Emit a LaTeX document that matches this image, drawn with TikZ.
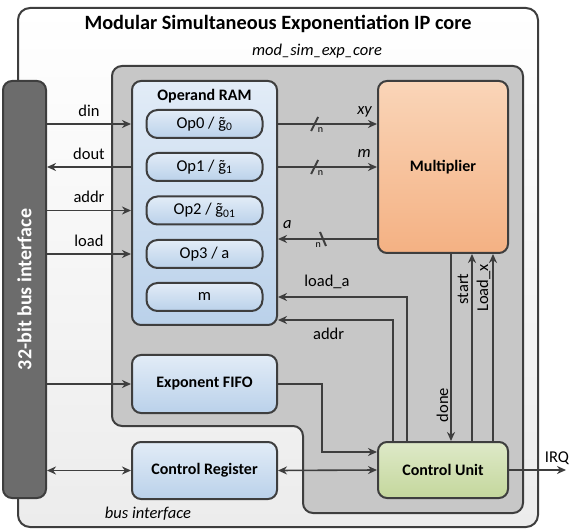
\documentclass[tikz,border=0pt]{standalone}
\usepackage{fontspec}
\setmainfont{Carlito}
\usepackage{xcolor}
\usepackage{tikz}
\usetikzlibrary{arrows.meta}

\definecolor{edgegray}{RGB}{62,62,62}
\definecolor{outerbot}{RGB}{236,236,236}
\definecolor{coregray}{RGB}{199,199,199}
\definecolor{busgray}{RGB}{108,108,108}
\definecolor{blueA}{RGB}{226,236,247}
\definecolor{blueB}{RGB}{186,209,234}
\definecolor{orangeA}{RGB}{250,213,184}
\definecolor{orangeB}{RGB}{244,177,131}
\definecolor{greenA}{RGB}{222,233,200}
\definecolor{greenB}{RGB}{196,215,156}

\newcommand{\gtil}{\accent"02DC g}

\begin{document}
\begin{tikzpicture}[x=1pt,y=-1pt,
  box/.style={draw=edgegray,line width=2pt,rounded corners=9pt,inner sep=0pt},
  bluebox/.style={box,top color=blueA,bottom color=blueB,minimum width=145pt,
    font=\fontsize{16}{19}\selectfont\bfseries},
  opbox/.style={box,rounded corners=11pt,top color=blueA,bottom color=blueB,
    minimum width=116pt,minimum height=28pt,font=\fontsize{16.5}{20}\selectfont},
  sig/.style={draw=edgegray,line width=1.6pt},
  tip/.style={-{Stealth[length=9pt,width=8pt]}},
  tips/.style={{Stealth[length=9pt,width=8pt]}-{Stealth[length=9pt,width=8pt]}},
  lbl/.style={font=\fontsize{16.5}{20}\selectfont,inner sep=1pt},
  ilbl/.style={font=\fontsize{16.5}{20}\selectfont\itshape,inner sep=1pt},
  rlbl/.style={lbl,rotate=90,anchor=base},
  nlbl/.style={font=\fontsize{10}{12}\selectfont,inner sep=0pt}]
\useasboundingbox (0,0) rectangle (574,532);

% frames
\draw [draw=edgegray,line width=2pt,rounded corners=12pt,top color=white,bottom color=outerbot]
  (18,8) rectangle (538,527);
\node [anchor=base,font=\fontsize{20.3}{24}\selectfont\bfseries] (title) at (278,30)
  {Modular Simultaneous Exponentiation IP core};
\draw [draw=edgegray,line width=2pt,rounded corners=10pt,fill=coregray]
  (112,66) -- (523,66) -- (523,513) -- (303,513) -- (303,426) -- (112,426) -- cycle;
\node [anchor=base,ilbl] (corename) at (317,56) {mod\_sim\_exp\_core};
\node [anchor=base,ilbl] (busname) at (148,518) {bus interface};

% bus bar
\node [box,fill=busgray,minimum width=43pt,minimum height=417pt] (bus) at (24.5,289.5) {};
\node [rotate=90,text=white,font=\fontsize{20}{24}\selectfont\bfseries] (bustext) at (bus.center)
  {32-bit bus interface};

% blocks
\node [bluebox,minimum height=244pt] (ram) at (204.5,203) {};
\node [anchor=base,font=\fontsize{16}{19}\selectfont\bfseries] (ramtitle) at (204.5,101) {Operand RAM};
\node [opbox] (op0) at (204.5,124) {Op0 / \gtil\textsubscript{0}};
\node [opbox] (op1) at (204.5,167) {Op1 / \gtil\textsubscript{1}};
\node [opbox] (op2) at (204.5,210.5) {Op2 / \gtil\textsubscript{01}};
\node [opbox] (op3) at (204.5,254) {Op3 / a};
\node [opbox] (op4) at (204.5,297) {m};
\node [bluebox,minimum height=58pt] (fifo) at (204.5,384) {Exponent FIFO};
\node [bluebox,minimum height=57pt] (creg) at (204.5,470.5) {Control Register};
\node [box,top color=orangeA,bottom color=orangeB,minimum width=130pt,minimum height=172pt,
  font=\fontsize{16}{19}\selectfont\bfseries] (mult) at (443,167) {Multiplier};
\node [box,top color=greenA,bottom color=greenB,minimum width=130pt,minimum height=56pt,
  font=\fontsize{16}{19}\selectfont\bfseries] (cu) at (443,470) {Control Unit};

% bus side
\draw [sig,tip] (bus.east |- op0) -- node [lbl,above=6pt] {din} (ram.west |- op0);
\draw [sig,tip] (ram.west |- op1) -- node [lbl,above=6pt] {dout} (bus.east |- op1);
\draw [sig,tip] (bus.east |- op2) -- node [lbl,above=6pt] {addr} (ram.west |- op2);
\draw [sig,tip] (bus.east |- op3) -- node [lbl,above=6pt] {load} (ram.west |- op3);
\draw [sig,tip] (bus.east |- fifo) -- (fifo.west);
\draw [sig,tips] (bus.east |- creg) -- (creg.west);

% data paths
\draw [sig,tip] (ram.east |- op0) -- coordinate [pos=0.37] (bm0) (mult.west |- op0);
\draw [sig,tip] (ram.east |- op1) -- coordinate [pos=0.37] (bm1) (mult.west |- op1);
\coordinate (aport) at (378,239);
\draw [sig,tip] (aport) -- coordinate [pos=0.55] (bm2) (ram.east |- aport);
\node [ilbl,anchor=base east] (xylbl) at ([shift={(-4pt,9pt)}]mult.west |- op0) {xy};
\node [ilbl,anchor=base east] (mlbl) at ([shift={(-5pt,9pt)}]mult.west |- op1) {m};
\node [ilbl,anchor=base west] (albl) at ([shift={(4pt,10pt)}]ram.east |- aport) {a};
\draw [sig,line width=2pt] ([shift={(-3.5pt,-7pt)}]bm0) -- ([shift={(3.5pt,7pt)}]bm0);
\draw [sig,line width=2pt] ([shift={(-3.5pt,-7pt)}]bm1) -- ([shift={(3.5pt,7pt)}]bm1);
\draw [sig,line width=2pt] ([shift={(-3pt,7pt)}]bm2) -- ([shift={(3pt,-7pt)}]bm2);
\node [nlbl,anchor=north west] at ([shift={(3pt,-3pt)}]bm0) {n};
\node [nlbl,anchor=north west] at ([shift={(3pt,-3pt)}]bm1) {n};
\node [nlbl,anchor=north east] at ([shift={(-2pt,-3pt)}]bm2) {n};

% control paths
\coordinate (addrin) at (ram.east |- 0,320);
\draw [sig,tip] ([xshift=-36pt]cu.north) |- node [lbl,pos=0.81,above=6pt] {load\_a} (ram.east |- op4);
\draw [sig,tip] ([xshift=-50pt]cu.north) |- node [lbl,pos=0.78,below=6pt] {addr} (addrin);
\draw [sig,tip] ([xshift=8pt]mult.south) -- ([xshift=8pt]cu.north);
\draw [sig,tip] ([xshift=29pt]cu.north) -- ([xshift=29pt]mult.south);
\draw [sig,tip] ([xshift=50pt]cu.north) -- ([xshift=50pt]mult.south);
\node [rlbl] (donelbl) at (448,405) {done};
\node [rlbl] (startlbl) at (468,289) {start};
\node [rlbl] (loadxlbl) at (488,288) {Load\_x};
\draw [sig,tip] (fifo.east) -- ++(44,0) |- ([yshift=18pt]cu.west);
\draw [sig,tips] (creg.east) -- (cu.west);
\coordinate (irq) at (566,470);
\draw [sig,tip] (cu.east) -- (irq);
\node [lbl,anchor=base] (irqlbl) at (557,462) {IRQ};
\end{tikzpicture}
\end{document}
